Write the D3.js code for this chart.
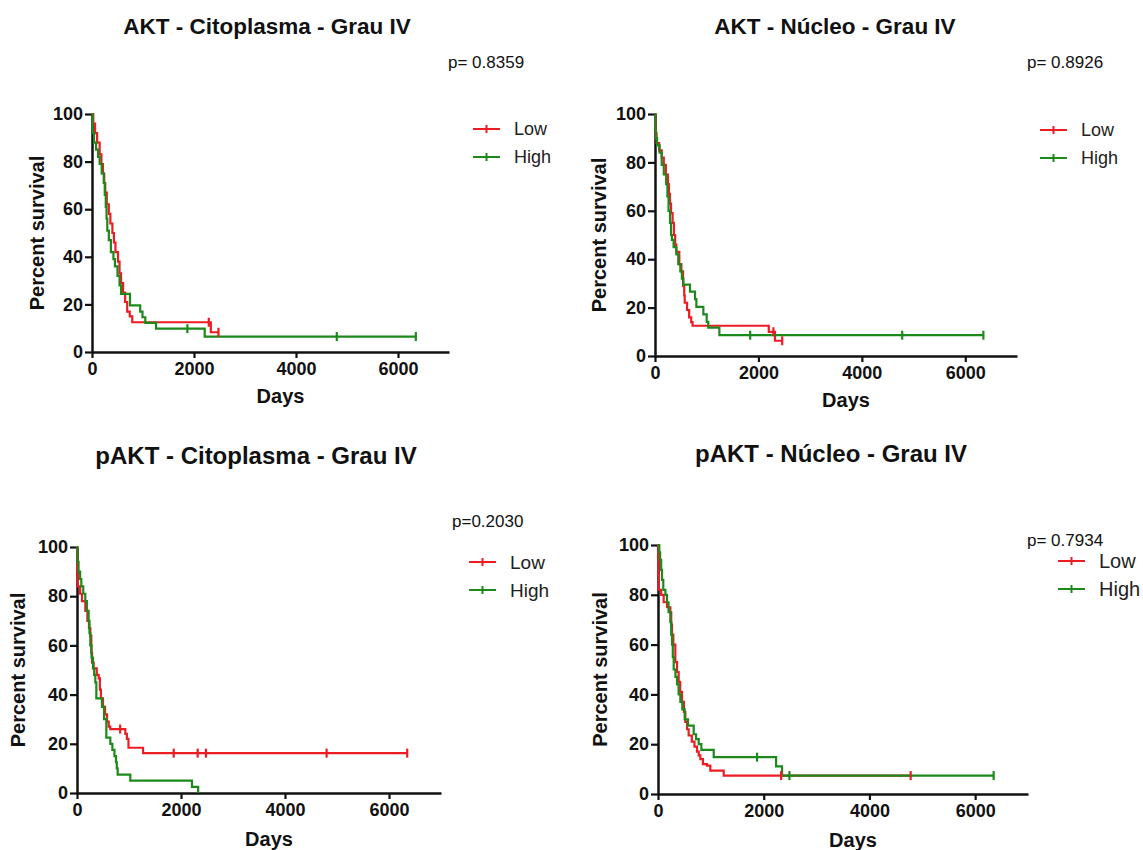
<!DOCTYPE html>
<html>
<head>
<meta charset="utf-8">
<script src="https://cdn.jsdelivr.net/npm/d3@7"></script>
<style>
  body { margin: 0; background: #fff; }
  text { font-family: "Liberation Sans", Arial, sans-serif; }
</style>
</head>
<body>
<svg id="chart" width="1143" height="850"></svg>
<script>
// ---- data ----
var dayTicks = [0, 2000, 4000, 6000];
var pctTicks = [0, 20, 40, 60, 80, 100];
var groupNames = ["Low", "High"];
var titles = ["AKT - Citoplasma - Grau IV", "AKT - Núcleo - Grau IV",
              "pAKT - Citoplasma - Grau IV", "pAKT - Núcleo - Grau IV"];
var pValues = ["p= 0.8359", "p= 0.8926", "p=0.2030", "p= 0.7934"];

// AKT citoplasma
var aktCitoLowT = [0, 25, 60, 100, 150, 185, 215, 240, 260, 290, 330, 360, 400, 430, 460, 510, 540, 570, 610, 650, 690, 740, 790, 2330];
var aktCitoLowS = [100, 96, 92, 88, 83, 79, 75, 71, 67, 62, 58, 54, 50, 46, 42, 38, 33, 29, 25, 21, 17, 15, 12.5, 8.3];
var aktCitoLowC = [2290, 2480];
var aktCitoHighT = [0, 10, 40, 80, 120, 150, 190, 230, 250, 270, 285, 300, 330, 370, 420, 450, 500, 540, 570, 745, 945, 990, 1045, 1255, 2210];
var aktCitoHighS = [100, 92, 88, 85, 82, 79, 75, 71, 66, 61, 56, 51, 47, 42, 39, 36, 32, 28, 24.4, 19.6, 17, 14.6, 12.2, 9.8, 6.5];
var aktCitoHighC = [1870, 4800, 6350];

// AKT nucleo
var aktNucLowT = [0, 10, 30, 80, 130, 170, 210, 250, 270, 290, 310, 340, 366, 390, 412, 470, 510, 543, 565, 575, 620, 660, 700, 726, 2200, 2320];
var aktNucLowS = [100, 92, 88, 85, 82, 79, 75, 71, 67, 63, 59, 55, 50, 46, 43, 38, 35, 29, 25, 22, 19, 16, 14, 12.5, 10, 6.3];
var aktNucLowC = [2290, 2460];
var aktNucHighT = [0, 8, 20, 40, 90, 130, 170, 216, 240, 262, 290, 310, 327, 360, 412, 450, 490, 520, 548, 677, 774, 800, 935, 1000, 1030, 1245];
var aktNucHighS = [100, 93, 90, 87, 84, 79, 75, 71, 66, 60, 55, 50, 48, 45, 42, 38, 35, 32, 29.5, 26.6, 23.5, 20.3, 17.2, 14.1, 11.7, 8.6];
var aktNucHighC = [1840, 4780, 6350];

// pAKT citoplasma
var paktCitoLowT = [0, 5, 13, 60, 96, 160, 200, 230, 256, 275, 290, 320, 380, 417, 440, 460, 500, 540, 577, 610, 640, 930, 960, 990, 1270];
var paktCitoLowS = [100, 91, 84, 81, 78, 74, 70, 67, 64, 57, 53, 50.7, 48, 46.6, 42, 38.5, 35, 32, 29, 27, 26, 24, 22, 18.4, 16.2];
var paktCitoLowC = [830, 1860, 2320, 2480, 4800, 6350];
var paktCitoHighT = [0, 10, 30, 60, 83, 120, 160, 190, 224, 240, 256, 280, 308, 330, 352, 372, 480, 520, 564, 641, 680, 720, 750, 765, 782, 1025, 2211, 2330];
var paktCitoHighS = [100, 94, 90, 87, 84, 81, 78, 74, 70, 65, 60, 55, 50.7, 48, 45, 38.5, 35, 30, 22.5, 20, 17.5, 15, 12.5, 10, 7.5, 5, 2.5, 0];
var paktCitoHighC = [];

// pAKT nucleo
var paktNucLowT = [0, 5, 15, 60, 107, 170, 233, 250, 265, 290, 328, 360, 391, 420, 454, 490, 517, 550, 580, 640, 690, 738, 770, 801, 850, 928, 990, 1243];
var paktNucLowS = [100, 88, 82, 80, 77, 75, 73, 68, 64, 60, 53, 49, 45, 41, 37, 33, 29, 26, 23.5, 21, 19, 17, 15.5, 14, 12, 11.4, 9.4, 7.4];
var paktNucLowC = [2330, 4780];
var paktNucHighT = [0, 25, 40, 60, 76, 100, 140, 170, 200, 233, 250, 265, 280, 297, 330, 360, 390, 423, 460, 505, 568, 675, 720, 770, 820, 1054, 2234, 2347];
var paktNucHighS = [100, 97, 94, 90, 86, 82, 80, 77, 73, 69, 64, 60, 55, 50, 47, 44, 40, 37, 34, 30, 27.5, 24, 22, 20, 17.7, 14.8, 11.1, 7.4];
var paktNucHighC = [1874, 2486, 6350];

var colors = ["#ec1c24", "#1b8a1b"];

// ---- layout ----
var panels = [
  { title: titles[0], p: pValues[0], left: 92, right: 449, top: 114, bottom: 352,
    titleX: 267, titleY: 34, titleSize: 22.5, pX: 448, pY: 68, legX: 473, legY: 129, legSize: 18,
    ylabX: 37, daysY: 403,
    series: [[aktCitoLowT, aktCitoLowS, aktCitoLowC], [aktCitoHighT, aktCitoHighS, aktCitoHighC]] },
  { title: titles[1], p: pValues[1], left: 655, right: 1017, top: 114, bottom: 356,
    titleX: 835, titleY: 34, titleSize: 22.5, pX: 1027, pY: 68, legX: 1040, legY: 130, legSize: 18,
    ylabX: 599, daysY: 407,
    series: [[aktNucLowT, aktNucLowS, aktNucLowC], [aktNucHighT, aktNucHighS, aktNucHighC]] },
  { title: titles[2], p: pValues[2], left: 77, right: 441, top: 547, bottom: 793,
    titleX: 256, titleY: 464, titleSize: 24, pX: 452, pY: 527, legX: 469, legY: 562, legSize: 19,
    ylabX: 18, daysY: 846,
    series: [[paktCitoLowT, paktCitoLowS, paktCitoLowC], [paktCitoHighT, paktCitoHighS, paktCitoHighC]] },
  { title: titles[3], p: pValues[3], left: 658, right: 1028, top: 545, bottom: 794,
    titleX: 831, titleY: 462, titleSize: 24, pX: 1027, pY: 546, legX: 1058, legY: 561, legSize: 20,
    ylabX: 600, daysY: 847,
    series: [[paktNucLowT, paktNucLowS, paktNucLowC], [paktNucHighT, paktNucHighS, paktNucHighC]] }
];

var svg = d3.select("#chart");
svg.append("rect").attr("width", 1143).attr("height", 850).attr("fill", "#fff");

function survAt(t, s, time) {
  var i = d3.bisectRight(t, time) - 1;
  return s[Math.max(i, 0)];
}

function drawPanel(p) {
  var g = svg.append("g");
  var x = d3.scaleLinear().domain([0, 7000]).range([p.left, p.right]);
  var y = d3.scaleLinear().domain([0, 100]).range([p.bottom, p.top]);

  // title
  g.append("text")
      .attr("x", p.titleX).attr("y", p.titleY)
      .attr("text-anchor", "middle")
      .style("font-size", p.titleSize + "px").style("font-weight", "bold")
      .attr("fill", "#111")
      .text(p.title);

  // axes
  var xAxis = g.append("g")
      .attr("transform", "translate(0," + p.bottom + ")")
      .call(d3.axisBottom(x).tickValues(dayTicks).tickFormat(d3.format("d"))
            .tickSize(6).tickSizeOuter(0).tickPadding(4));
  var yAxis = g.append("g")
      .attr("transform", "translate(" + p.left + ",0)")
      .call(d3.axisLeft(y).tickValues(pctTicks).tickFormat(d3.format("d"))
            .tickSize(7).tickSizeOuter(0).tickPadding(2));
  [xAxis, yAxis].forEach(function (a) {
    a.select(".domain").attr("stroke", "#111").attr("stroke-width", 2.5);
    a.selectAll(".tick line").attr("stroke", "#111").attr("stroke-width", 2.2);
    a.selectAll(".tick text")
        .attr("fill", "#111")
        .style("font-size", "18px").style("font-weight", "bold")
        .style("font-family", "'Liberation Sans', Arial, sans-serif");
  });

  // axis titles
  g.append("text")
      .attr("transform", "translate(" + p.ylabX + "," + ((p.top + p.bottom) / 2) + ") rotate(-90)")
      .attr("text-anchor", "middle").attr("dominant-baseline", "central")
      .style("font-size", "20px").style("font-weight", "bold").attr("fill", "#111")
      .text("Percent survival");
  g.append("text")
      .attr("x", (p.left + p.right) / 2 + 10).attr("y", p.daysY)
      .attr("text-anchor", "middle")
      .style("font-size", "20px").style("font-weight", "bold").attr("fill", "#111")
      .text("Days");

  // survival curves
  var line = d3.line()
      .x(function (d) { return x(d[0]); })
      .y(function (d) { return y(d[1]); })
      .curve(d3.curveStepAfter);

  p.series.forEach(function (sr, k) {
    var t = sr[0], s = sr[1], c = sr[2];
    var pts = t.map(function (d, i) { return [d, s[i]]; });
    var end = d3.max(c.concat(t));
    if (end > t[t.length - 1]) pts.push([end, s[s.length - 1]]);
    g.append("path")
        .datum(pts)
        .attr("fill", "none")
        .attr("stroke", colors[k])
        .attr("stroke-width", 2.2)
        .attr("d", line);
  });

  // censor ticks
  p.series.forEach(function (sr, k) {
    var t = sr[0], s = sr[1];
    g.selectAll(null)
        .data(sr[2])
        .enter().append("line")
        .attr("x1", function (d) { return x(d); })
        .attr("x2", function (d) { return x(d); })
        .attr("y1", function (d) { return y(survAt(t, s, d)) - 4.5; })
        .attr("y2", function (d) { return y(survAt(t, s, d)) + 4.5; })
        .attr("stroke", colors[k])
        .attr("stroke-width", 2.2);
  });

  // p-value
  g.append("text")
      .attr("x", p.pX).attr("y", p.pY)
      .style("font-size", "17px").attr("fill", "#111")
      .text(p.p);

  // legend
  groupNames.forEach(function (name, k) {
    var ly = p.legY + k * 28;
    g.append("line")
        .attr("x1", p.legX).attr("x2", p.legX + 27)
        .attr("y1", ly).attr("y2", ly)
        .attr("stroke", colors[k]).attr("stroke-width", 2);
    g.append("line")
        .attr("x1", p.legX + 13.5).attr("x2", p.legX + 13.5)
        .attr("y1", ly - 4).attr("y2", ly + 4)
        .attr("stroke", colors[k]).attr("stroke-width", 2);
    g.append("text")
        .attr("x", p.legX + 41).attr("y", ly)
        .attr("dominant-baseline", "central")
        .style("font-size", p.legSize + "px").attr("fill", "#222")
        .text(name);
  });
}

panels.forEach(drawPanel);
</script>
</body>
</html>
